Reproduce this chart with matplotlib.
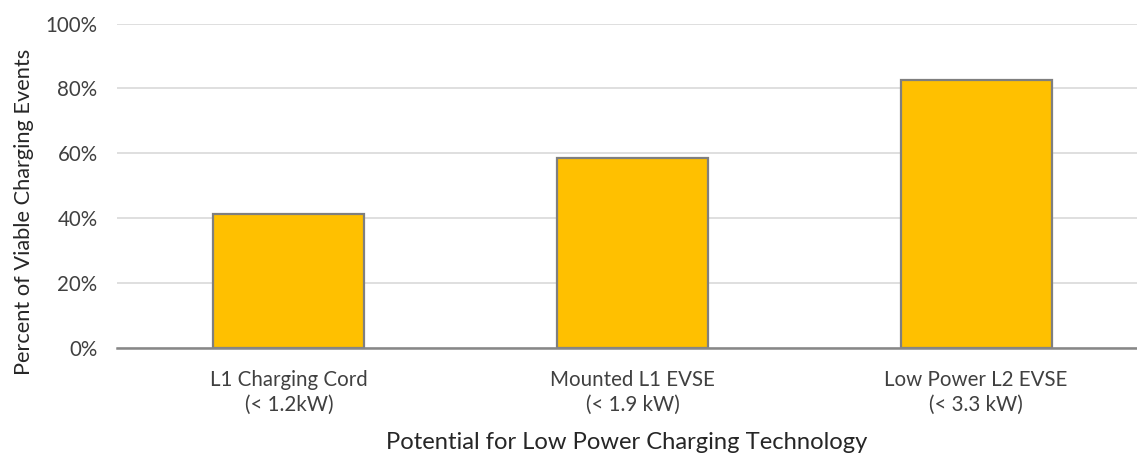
import numpy as np
import matplotlib.pyplot as plt
from matplotlib.ticker import PercentFormatter

plt.rcParams['font.family'] = ['Lato', 'DejaVu Sans']

# data
categories = ['L1 Charging Cord\n(< 1.2kW)', 'Mounted L1 EVSE\n(< 1.9 kW)', 'Low Power L2 EVSE\n(< 3.3 kW)']
values = [41.4, 58.5, 82.6]

fig = plt.figure(figsize=(11.37, 4.55), dpi=100)
ax = fig.add_axes([117 / 1137, 1 - 348 / 455, 1020 / 1137, 324.5 / 455])

x = np.arange(len(categories))
ax.bar(x, values, width=0.44, color='#FFC000', edgecolor='#7F7F7F', linewidth=1.6, zorder=3)

ax.set_ylim(0, 100)
ax.set_xlim(-0.5, 2.468)
ax.set_yticks(np.arange(0, 101, 20))
ax.yaxis.set_major_formatter(PercentFormatter(decimals=0))
ax.grid(axis='y', color='#D9D9D9', linewidth=1.2, zorder=0)
ax.set_xticks(x)
ax.set_xticklabels(categories, fontsize=14.8, color='#404040', linespacing=1.3)
ax.tick_params(axis='y', labelsize=14.8, labelcolor='#404040', length=0, pad=14)
ax.tick_params(axis='x', length=0, pad=16)

for s in ['top', 'right', 'left']:
    ax.spines[s].set_visible(False)
ax.spines['bottom'].set_color('#878787')
ax.spines['bottom'].set_linewidth(1.8)
ax.spines['bottom'].set_zorder(4)

ax.set_ylabel('Percent of Viable Charging Events', fontsize=15.7, color='#262626')
ax.yaxis.set_label_coords(-0.081, 0.42)
ax.set_xlabel('Potential for Low Power Charging Technology', fontsize=17.1, color='#262626', labelpad=12)

fig.savefig('out.png', dpi=100)
